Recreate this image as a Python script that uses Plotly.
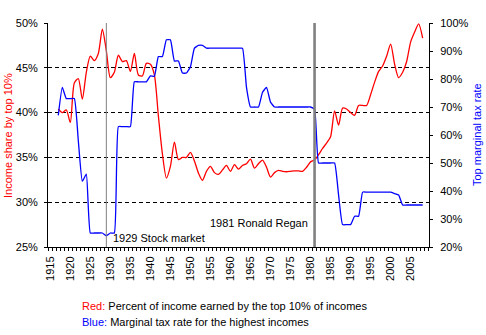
import plotly.graph_objects as go

years_income = list(range(1917, 2009))
income_share = [
    40.4, 40.0, 40.3, 38.9, 43.3, 43.8, 41.5, 44.5, 46.3, 45.8,   # 1917-1926
    46.6, 49.3, 46.9, 43.9, 44.5, 46.4, 45.7, 45.8, 44.6, 46.6,   # 1927-1936
    44.2, 44.1, 45.5, 45.4, 44.2, 39.6, 35.4, 32.7, 34.0, 36.7,   # 1937-1946
    34.75, 35.0, 35.0, 35.55, 34.6, 33.25, 32.45, 33.45, 34.0, 33.3,  # 1947-1956
    33.1, 33.6, 34.1, 33.45, 34.2, 33.7, 34.1, 34.3, 34.8, 33.8,  # 1957-1966
    34.3, 34.7, 33.9, 32.8, 33.3, 33.55, 33.45, 33.4, 33.45, 33.5,  # 1967-1976
    33.5, 33.45, 33.9, 34.5, 34.7, 35.3, 36.0, 36.6, 37.3, 40.2,  # 1977-1986
    38.6, 40.5, 40.4, 40.0, 39.7, 40.8, 40.8, 40.8, 42.0, 43.4,   # 1987-1996
    44.6, 45.2, 46.3, 47.65, 45.4, 43.9, 44.5, 45.7, 47.9, 49.0,  # 1997-2006
    49.9, 48.3,                                                   # 2007-2008
]

years_tax = list(range(1917, 2009))
top_tax_rate = [
    67, 77, 73, 73, 73, 58, 43.5, 46, 25, 25,            # 1917-1926
    25, 25, 24, 25, 25, 63, 63, 63, 63, 79,              # 1927-1936
    79, 79, 79, 81.1, 81, 88, 88, 94, 94, 86.45,         # 1937-1946
    86.45, 82.13, 82.13, 84.36, 91, 92, 92, 91, 91, 91,  # 1947-1956
    91, 91, 91, 91, 91, 91, 91, 77, 70, 70,              # 1957-1966
    70, 75.25, 77, 71.75, 70, 70, 70, 70, 70, 70,        # 1967-1976
    70, 70, 70, 70, 69.13, 50, 50, 50, 50, 50,           # 1977-1986
    38.5, 28, 28, 28, 31, 31, 39.6, 39.6, 39.6, 39.6,    # 1987-1996
    39.6, 39.6, 39.6, 39.6, 39.1, 38.6, 35, 35, 35, 35,  # 1997-2006
    35, 35,                                              # 2007-2008
]

x_tick_years = list(range(1915, 2010, 5))
left_ticks = [25, 30, 35, 40, 45, 50]
right_ticks = [20, 30, 40, 50, 60, 70, 80, 90, 100]

events = [
    {"year": 1929, "label": "1929 Stock market", "width": 1.0},
    {"year": 1981, "label": "1981 Ronald Regan", "width": 2.6},
]

FONT = "Arial, Liberation Sans, sans-serif"

fig = go.Figure()
fig.add_trace(go.Scatter(
    x=years_income, y=income_share, mode="lines",
    line=dict(color="#FF0000", width=1.3, shape="spline", smoothing=0.7),
    yaxis="y", showlegend=False, hoverinfo="skip",
))
fig.add_trace(go.Scatter(
    x=years_tax, y=top_tax_rate, mode="lines",
    line=dict(color="#0000FF", width=1.3, shape="spline", smoothing=0.4),
    yaxis="y2", showlegend=False, hoverinfo="skip",
))

shapes = []
for ev in events:
    shapes.append(dict(type="line", xref="x", yref="paper", x0=ev["year"], x1=ev["year"],
                       y0=0, y1=1, line=dict(color="#808080", width=ev["width"]), layer="above"))

annotations = [
    dict(x=events[0]["year"], xref="x", y=0.038, yref="paper", text=events[0]["label"],
         showarrow=False, xanchor="left", yanchor="middle", xshift=5,
         font=dict(size=11, color="black", family=FONT)),
    dict(x=events[1]["year"], xref="x", y=0.105, yref="paper", text=events[1]["label"],
         showarrow=False, xanchor="right", yanchor="middle", xshift=-5,
         font=dict(size=11, color="black", family=FONT)),
    dict(x=-0.105, xref="paper", y=0.5, yref="paper", text="Income share by top 10%",
         textangle=-90, showarrow=False, xanchor="center", yanchor="middle",
         font=dict(size=11, color="#FF0000", family=FONT)),
    dict(x=1.126, xref="paper", y=0.5, yref="paper", text="Top marginal tax rate",
         textangle=-90, showarrow=False, xanchor="center", yanchor="middle",
         font=dict(size=11, color="#0000FF", family=FONT)),
    dict(x=0.084, xref="paper", y=-0.2654, yref="paper",
         text="<span style='color:#FF0000'>Red:</span> Percent of income earned by the top 10% of incomes",
         showarrow=False, xanchor="left", yanchor="middle", align="left",
         font=dict(size=11, color="black", family=FONT)),
    dict(x=0.084, xref="paper", y=-0.3345, yref="paper",
         text="<span style='color:#0000FF'>Blue:</span> Marginal tax rate for the highest incomes",
         showarrow=False, xanchor="left", yanchor="middle", align="left",
         font=dict(size=11, color="black", family=FONT)),
]

fig.update_layout(
    width=486, height=335,
    margin=dict(l=48, r=57, t=23, b=88, pad=0),
    paper_bgcolor="white", plot_bgcolor="white",
    font=dict(family=FONT, size=11, color="black"),
    shapes=shapes, annotations=annotations,
    xaxis=dict(
        range=[1914.43, 2009.58], tickmode="array", tickvals=x_tick_years,
        ticktext=[str(y) for y in x_tick_years], tickangle=-90,
        ticks="", showgrid=False, zeroline=False,
        showline=True, linecolor="black", linewidth=1,
        ticklabelstandoff=4,
        tickfont=dict(size=11, color="black", family=FONT),
        minor=dict(ticks="outside", ticklen=3, tickcolor="black", tick0=1914.5, dtick=1, showgrid=False),
    ),
    yaxis=dict(
        range=[25, 50], tickmode="array", tickvals=left_ticks,
        ticktext=[f"{v}%" for v in left_ticks],
        ticks="outside", ticklen=3, tickcolor="black",
        showgrid=True, gridcolor="black", gridwidth=1, griddash="4px,3px",
        zeroline=False, showline=True, linecolor="black", linewidth=1,
        ticklabelstandoff=4,
        tickfont=dict(size=11, color="black", family=FONT),
    ),
    yaxis2=dict(
        range=[20, 100], overlaying="y", side="right", tickmode="array",
        tickvals=right_ticks, ticktext=[f"{v}%" for v in right_ticks],
        ticks="outside", ticklen=3, tickcolor="black",
        showgrid=False, zeroline=False, showline=True, linecolor="black", linewidth=1,
        ticklabelstandoff=5,
        tickfont=dict(size=11, color="black", family=FONT),
    ),
)

fig.write_html("out.html")
